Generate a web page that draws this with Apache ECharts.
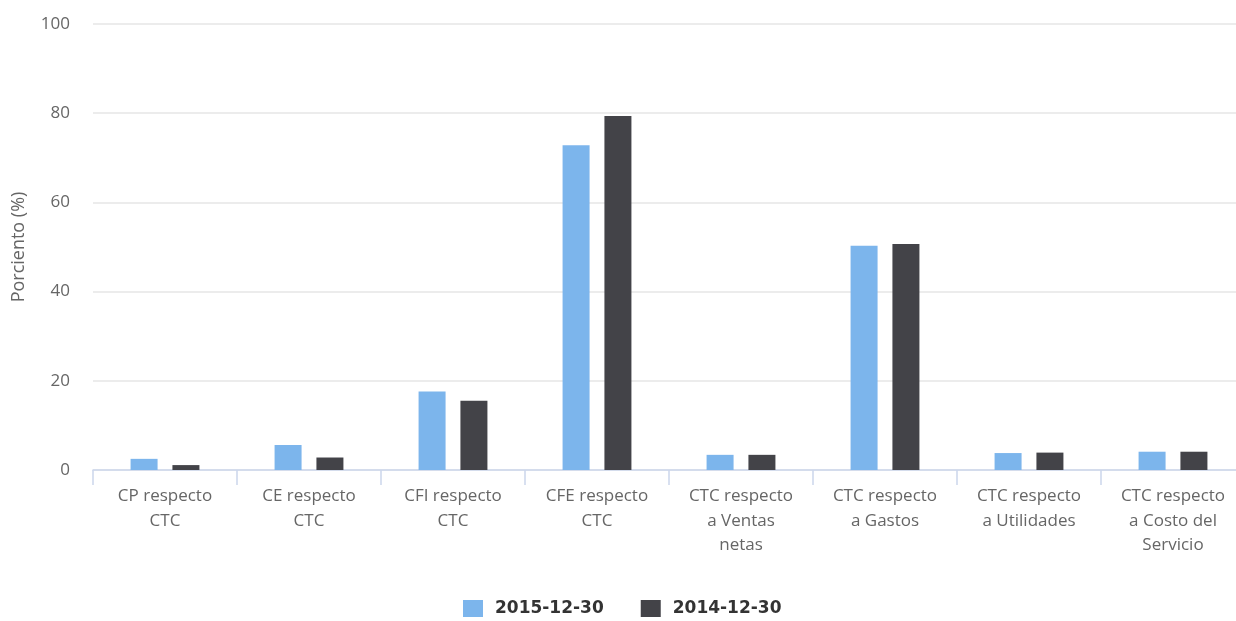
<!DOCTYPE html>
<html>
<head>
<meta charset="utf-8">
<script src="https://cdn.jsdelivr.net/npm/echarts@6/dist/echarts.min.js"></script>
<style>
  html, body { margin: 0; padding: 0; background: #fff; overflow: hidden; }
  #chart { width: 1236px; height: 621px; }
</style>
</head>
<body>
<div id="chart"></div>
<script>
// Ratio categories (line breaks as shown under the axis)
const categories = [
  'CP respecto\nCTC',
  'CE respecto\nCTC',
  'CFI respecto\nCTC',
  'CFE respecto\nCTC',
  'CTC respecto\na Ventas\nnetas',
  'CTC respecto\na Gastos',
  'CTC respecto\na Utilidades',
  'CTC respecto\na Costo del\nServicio'
];
const seriesNames = ['2015-12-30', '2014-12-30'];
const values2015 = [2.5, 5.6, 17.6, 72.8, 3.4, 50.3, 3.8, 4.1];
const values2014 = [1.1, 2.8, 15.5, 79.4, 3.4, 50.7, 3.9, 4.1];
const yTicks = [0, 20, 40, 60, 80, 100];

const chart = echarts.init(document.getElementById('chart'));
const fontFamily = '"Open Sans", "DejaVu Sans", sans-serif';

chart.setOption({
  animation: false,
  color: ['#7cb5ec', '#434348'],
  textStyle: { fontFamily: fontFamily },
  // plot area runs a little past the right edge of the canvas
  grid: {
    left: 93, top: 24, width: 1152, height: 446,
    containLabel: false, outerBoundsMode: 'none'
  },
  legend: {
    data: seriesNames,
    top: 600,
    left: 463,
    padding: 0,
    itemWidth: 20,
    itemHeight: 17,
    itemGap: 37,
    icon: 'rect',
    textStyle: {
      fontSize: 17, fontWeight: 'bold', color: '#333',
      fontFamily: '"DejaVu Sans", sans-serif', padding: [0, 0, 0, 7]
    }
  },
  xAxis: {
    type: 'category',
    data: categories,
    axisLine: { lineStyle: { color: '#ccd6eb', width: 1.5 } },
    axisTick: { show: true, length: 15, lineStyle: { color: '#ccd6eb', width: 1.5 } },
    axisLabel: { color: '#666', fontSize: 17, lineHeight: 24.5, margin: 14, interval: 0, fontFamily: fontFamily },
    splitLine: { show: false }
  },
  yAxis: {
    type: 'value',
    min: yTicks[0],
    max: yTicks[yTicks.length - 1],
    interval: yTicks[1] - yTicks[0],
    name: 'Porciento (%)',
    nameLocation: 'middle',
    nameGap: 65,
    nameTextStyle: { color: '#666', fontSize: 18, fontFamily: fontFamily },
    axisLine: { show: false },
    axisTick: { show: false },
    axisLabel: { color: '#666', fontSize: 17, margin: 23, fontFamily: fontFamily },
    splitLine: { lineStyle: { color: '#e6e6e6', width: 1.5 } }
  },
  series: [
    { name: seriesNames[0], type: 'bar', data: values2015, barWidth: 27, barGap: '55%' },
    { name: seriesNames[1], type: 'bar', data: values2014, barWidth: 27, barGap: '55%' }
  ]
});
</script>
</body>
</html>
